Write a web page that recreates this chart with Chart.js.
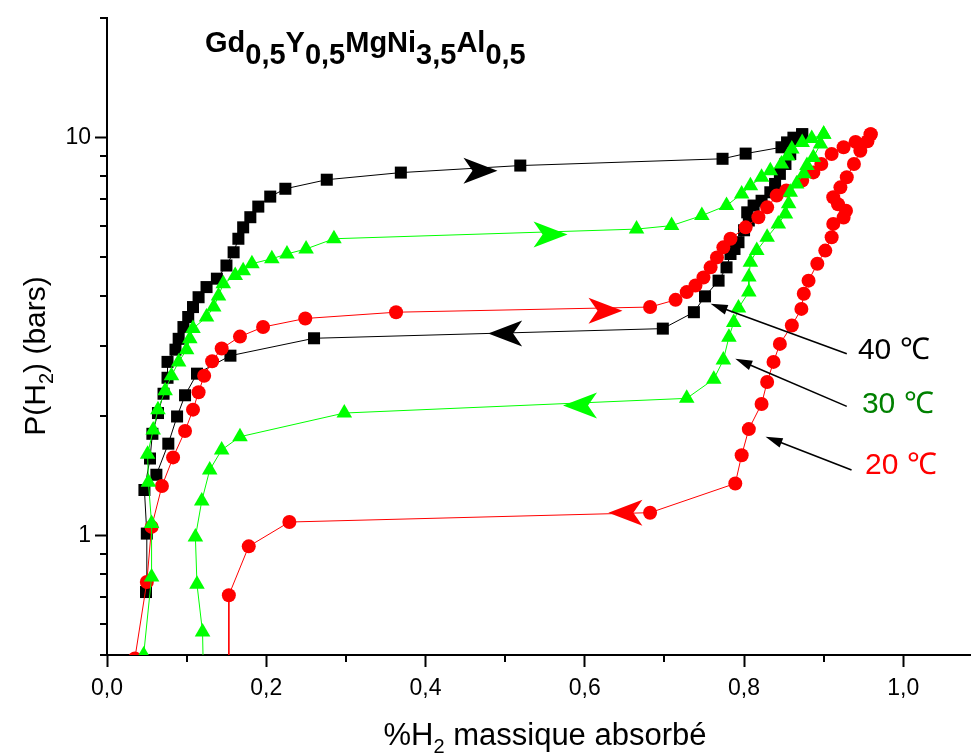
<!DOCTYPE html>
<html>
<head>
<meta charset="utf-8">
<script src="https://cdn.jsdelivr.net/npm/chart.js@4.4.0/dist/chart.umd.min.js"></script>
<style>
  html, body { margin: 0; padding: 0; background: #fff; }
</style>
</head>
<body>
<canvas id="chart" width="971" height="756"></canvas>
<script>
// axes
const xTickValues = [0, 0.1, 0.2, 0.3, 0.4, 0.5, 0.6, 0.7, 0.8, 0.9, 1.0];
const yTickValues = [0.5, 0.6, 0.7, 0.8, 0.9, 1, 2, 3, 4, 5, 6, 7, 8, 9, 10, 20];
const yTickLabelled = [1, 10];
const temperatures = ['40 \u2103', '30 \u2103', '20 \u2103'];

// 40 C : [wt% H2, P (bar)]
const abs40 = [[0.049,0.72],[0.050,1.01],[0.047,1.30],[0.054,1.56],[0.057,1.80],[0.064,2.03],[0.071,2.27],
  [0.076,2.49],[0.076,2.73],[0.086,2.93],[0.090,3.12],[0.096,3.34],[0.102,3.54],[0.108,3.75],[0.115,3.97],
  [0.125,4.21],[0.138,4.42],[0.150,4.77],[0.159,5.15],[0.165,5.57],[0.171,5.95],[0.180,6.31],[0.190,6.71],
  [0.205,7.11],[0.224,7.44],[0.276,7.84],[0.369,8.17],[0.519,8.51],[0.773,8.85],[0.802,9.12],[0.847,9.46],
  [0.854,9.73],[0.862,10.0],[0.873,10.2]];
const des40 = [[0.873,10.2],[0.868,9.9],[0.858,9.10],[0.852,8.59],[0.845,8.11],[0.839,7.65],[0.833,7.29],
  [0.822,6.94],[0.812,6.75],[0.804,6.49],[0.806,6.19],[0.800,5.85],[0.793,5.46],[0.788,5.25],[0.783,5.10],
  [0.778,4.72],[0.768,4.37],[0.751,3.99],[0.737,3.64],[0.698,3.31],[0.260,3.13],[0.155,2.83],[0.113,2.55],
  [0.098,2.25],[0.088,1.99],[0.077,1.70],[0.062,1.42]];

// 30 C
const abs30 = [[0.046,0.50],[0.056,0.786],[0.056,1.07],[0.052,1.36],[0.051,1.60],[0.058,1.84],[0.064,2.07],
  [0.073,2.31],[0.081,2.52],[0.090,2.73],[0.100,2.93],[0.104,3.12],[0.108,3.31],[0.125,3.54],[0.134,3.75],
  [0.140,4.00],[0.146,4.29],[0.161,4.50],[0.171,4.63],[0.182,4.82],[0.207,4.96],[0.226,5.10],[0.250,5.25],
  [0.285,5.57],[0.665,5.89],[0.709,6.01],[0.747,6.37],[0.778,6.75],[0.797,7.22],[0.808,7.57],[0.822,7.95],
  [0.833,8.26],[0.847,8.59],[0.855,9.00],[0.860,9.37],[0.873,9.73],[0.885,9.95],[0.900,10.2]];
const des30 = [[0.900,10.2],[0.896,9.64],[0.887,8.92],[0.879,8.51],[0.875,8.11],[0.866,7.65],[0.858,7.29],
  [0.856,6.82],[0.852,6.43],[0.843,6.07],[0.829,5.62],[0.816,5.20],[0.808,4.86],[0.806,4.46],[0.806,4.09],
  [0.793,3.73],[0.787,3.43],[0.781,3.15],[0.774,2.76],[0.762,2.47],[0.728,2.21],[0.298,2.03],[0.167,1.77],
  [0.144,1.64],[0.129,1.46],[0.119,1.22],[0.111,0.99],[0.113,0.753],[0.120,0.571],[0.121,0.45]];

// 20 C
const abs20 = [[0.035,0.49],[0.050,0.763],[0.056,1.05],[0.069,1.33],[0.083,1.57],[0.098,1.83],[0.108,2.07],
  [0.115,2.29],[0.122,2.52],[0.132,2.74],[0.144,2.95],[0.167,3.16],[0.196,3.34],[0.249,3.51],[0.363,3.64],
  [0.682,3.75],[0.714,3.91],[0.728,4.09],[0.739,4.25],[0.749,4.45],[0.758,4.72],[0.766,5.00],[0.774,5.30],
  [0.783,5.57],[0.802,5.95],[0.818,6.31],[0.829,6.68],[0.841,7.15],[0.853,7.37],[0.873,7.80],[0.887,8.18],
  [0.897,8.59],[0.910,9.10],[0.925,9.46],[0.940,9.76],[0.959,10.2]];
const des20 = [[0.959,10.2],[0.955,9.80],[0.946,9.27],[0.938,8.59],[0.929,7.95],[0.921,7.50],[0.912,7.08],
  [0.918,6.80],[0.928,6.55],[0.925,6.30],[0.912,6.07],[0.910,5.62],[0.902,5.20],[0.892,4.82],[0.881,4.37],
  [0.875,4.05],[0.872,3.71],[0.860,3.37],[0.845,3.03],[0.837,2.73],[0.829,2.43],[0.822,2.14],[0.806,1.85],
  [0.797,1.59],[0.789,1.35],[0.682,1.14],[0.229,1.08],[0.178,0.938],[0.153,0.707],[0.153,0.45]];

const FONT = "'Liberation Sans', Arial, Helvetica, sans-serif";

// first in list = drawn on top
const series = [
  { abs: abs30, des: des30, color: '#00ff00', style: 'triangle', radius: 9 },
  { abs: abs20, des: des20, color: '#ff0000', style: 'circle', radius: 7 },
  { abs: abs40, des: des40, color: '#000000', style: 'rect', radius: 8.5 }
];

// big direction arrows on the plateaus (data coords)
const flowMarks = [
  { x: 0.469, y: 8.26, dir: 1, color: '#000000' },
  { x: 0.500, y: 3.22, dir: -1, color: '#000000' },
  { x: 0.557, y: 5.71, dir: 1, color: '#00ff00' },
  { x: 0.594, y: 2.12, dir: -1, color: '#00ff00' },
  { x: 0.626, y: 3.67, dir: 1, color: '#ff0000' },
  { x: 0.651, y: 1.14, dir: -1, color: '#ff0000' }
];

const tempNotes = [
  { text: temperatures[0], color: '#000000', tx: 0.943, ty: 2.77, from: [0.929, 2.86], to: [0.758, 3.82] },
  { text: temperatures[1], color: '#008000', tx: 0.948, ty: 2.03, from: [0.929, 2.11], to: [0.789, 2.78] },
  { text: temperatures[2], color: '#ff0000', tx: 0.952, ty: 1.43, from: [0.935, 1.46], to: [0.827, 1.77] }
];

const isMajorX = v => Math.round(v * 10) % 2 === 0;
const isMajorY = v => yTickLabelled.includes(v);

const datasets = [];
series.forEach((s, i) => {
  [s.abs, s.des].forEach(pts => {
    datasets.push({
      data: pts.map(p => ({ x: p[0], y: p[1] })),
      showLine: true,
      borderColor: s.color,
      borderWidth: 1,
      backgroundColor: s.color,
      pointStyle: s.style,
      pointRadius: s.radius,
      pointBorderWidth: 0,
      pointBackgroundColor: s.color,
      tension: 0,
      clip: 0,
      order: i
    });
  });
});

function drawRich(ctx, segs, x, y, o) {
  const mainFont = (o.weight || '') + ' ' + o.size + 'px ' + FONT;
  const subFont = (o.weight || '') + ' ' + o.subSize + 'px ' + FONT;
  let total = 0;
  segs.forEach(s => { ctx.font = s.sub ? subFont : mainFont; total += ctx.measureText(s.t).width; });
  let cx = o.align === 'center' ? x - total / 2 : x;
  ctx.fillStyle = o.color || '#000';
  ctx.textAlign = 'left';
  ctx.textBaseline = 'alphabetic';
  segs.forEach(s => {
    ctx.font = s.sub ? subFont : mainFont;
    ctx.fillText(s.t, cx, y + (s.sub ? o.subDy : 0));
    cx += ctx.measureText(s.t).width;
  });
}

function arrowLine(ctx, x1, y1, x2, y2, color) {
  const a = Math.atan2(y2 - y1, x2 - x1);
  const hl = 17, hw = 5;
  ctx.strokeStyle = color; ctx.fillStyle = color; ctx.lineWidth = 1.6;
  ctx.beginPath();
  ctx.moveTo(x1, y1);
  ctx.lineTo(x2 - Math.cos(a) * hl * 0.8, y2 - Math.sin(a) * hl * 0.8);
  ctx.stroke();
  ctx.beginPath();
  ctx.moveTo(x2, y2);
  ctx.lineTo(x2 - Math.cos(a) * hl - Math.sin(a) * hw, y2 - Math.sin(a) * hl + Math.cos(a) * hw);
  ctx.lineTo(x2 - Math.cos(a) * hl + Math.sin(a) * hw, y2 - Math.sin(a) * hl - Math.cos(a) * hw);
  ctx.closePath();
  ctx.fill();
}

const decorations = {
  id: 'decorations',
  afterDatasetsDraw(chart) {
    const ctx = chart.ctx, xs = chart.scales.x, ys = chart.scales.y;
    ctx.save();
    // direction arrowheads
    flowMarks.forEach(m => {
      const cx = xs.getPixelForValue(m.x), cy = ys.getPixelForValue(m.y);
      ctx.save();
      ctx.translate(cx, cy);
      ctx.scale(m.dir, 1);
      ctx.fillStyle = m.color;
      ctx.beginPath();
      ctx.moveTo(17, 0);
      ctx.lineTo(-17, -13);
      ctx.lineTo(-8, 0);
      ctx.lineTo(-17, 13);
      ctx.closePath();
      ctx.fill();
      ctx.restore();
    });
    ctx.restore();
  },
  afterDraw(chart) {
    const ctx = chart.ctx, xs = chart.scales.x, ys = chart.scales.y, ca = chart.chartArea;
    ctx.save();
    // minor ticks
    ctx.strokeStyle = '#000'; ctx.lineWidth = 2;
    ctx.beginPath();
    xTickValues.filter(v => !isMajorX(v)).forEach(v => {
      const px = Math.round(xs.getPixelForValue(v));
      ctx.moveTo(px, ca.bottom); ctx.lineTo(px, ca.bottom + 7);
    });
    yTickValues.filter(v => !isMajorY(v)).forEach(v => {
      const py = Math.round(ys.getPixelForValue(v));
      ctx.moveTo(ca.left, py); ctx.lineTo(ca.left - 7, py);
    });
    ctx.stroke();

    // temperature labels with arrows
    tempNotes.forEach(n => {
      arrowLine(ctx, xs.getPixelForValue(n.from[0]), ys.getPixelForValue(n.from[1]),
        xs.getPixelForValue(n.to[0]), ys.getPixelForValue(n.to[1]), '#000');
      ctx.font = '30px ' + FONT;
      ctx.fillStyle = n.color;
      ctx.textAlign = 'left';
      ctx.textBaseline = 'alphabetic';
      ctx.fillText(n.text, xs.getPixelForValue(n.tx), ys.getPixelForValue(n.ty));
    });

    // compound title
    drawRich(ctx, [
      { t: 'Gd' }, { t: '0,5', sub: true }, { t: 'Y' }, { t: '0,5', sub: true },
      { t: 'MgNi' }, { t: '3,5', sub: true }, { t: 'Al' }, { t: '0,5', sub: true }
    ], 205, 52, { size: 29, subSize: 29, subDy: 12, weight: 'bold', color: '#000' });

    // x axis title
    drawRich(ctx, [{ t: '%H' }, { t: '2', sub: true }, { t: ' massique absorb\u00e9' }],
      545, 745, { size: 31, subSize: 20, subDy: 8, align: 'center', color: '#000' });

    // y axis title
    ctx.save();
    ctx.translate(45, 356);
    ctx.rotate(-Math.PI / 2);
    drawRich(ctx, [{ t: 'P(H' }, { t: '2', sub: true }, { t: ') (bars)' }],
      0, 0, { size: 30, subSize: 20, subDy: 8, align: 'center', color: '#000' });
    ctx.restore();
    ctx.restore();
  }
};

const ctx = document.getElementById('chart').getContext('2d');
const chart = new Chart(ctx, {
  type: 'scatter',
  data: { datasets: datasets },
  options: {
    responsive: false,
    animation: false,
    events: [],
    layout: { autoPadding: false, padding: { left: 0, right: 0, top: 18, bottom: 0 } },
    plugins: { legend: { display: false }, tooltip: { enabled: false } },
    scales: {
      x: {
        type: 'linear',
        min: 0,
        max: 1.085,
        afterBuildTicks: s => { s.ticks = xTickValues.map(v => ({ value: v })); },
        afterFit: s => { s.height = 101; s.paddingLeft = 0; s.paddingRight = 0; },
        ticks: {
          autoSkip: false,
          maxRotation: 0,
          padding: 8,
          color: '#000',
          font: { family: FONT, size: 23 },
          callback: v => isMajorX(v) ? v.toFixed(1).replace('.', ',') : ''
        },
        grid: {
          drawOnChartArea: false,
          drawTicks: true,
          tickLength: 12,
          tickWidth: 2,
          tickColor: c => (c.tick && isMajorX(c.tick.value)) ? '#000' : 'rgba(0,0,0,0)'
        },
        border: { display: true, color: '#000', width: 2 }
      },
      y: {
        type: 'logarithmic',
        min: 0.5,
        max: 20,
        afterBuildTicks: s => { s.ticks = yTickValues.map(v => ({ value: v })); },
        afterFit: s => { s.width = 107; s.paddingTop = 0; s.paddingBottom = 0; },
        ticks: {
          autoSkip: false,
          padding: 4,
          color: '#000',
          font: { family: FONT, size: 23 },
          callback: v => isMajorY(v) ? String(v) : ''
        },
        grid: {
          drawOnChartArea: false,
          drawTicks: true,
          tickLength: 12,
          tickWidth: 2,
          tickColor: c => (c.tick && isMajorY(c.tick.value)) ? '#000' : 'rgba(0,0,0,0)'
        },
        border: { display: true, color: '#000', width: 2 }
      }
    }
  },
  plugins: [decorations]
});
</script>
</body>
</html>
